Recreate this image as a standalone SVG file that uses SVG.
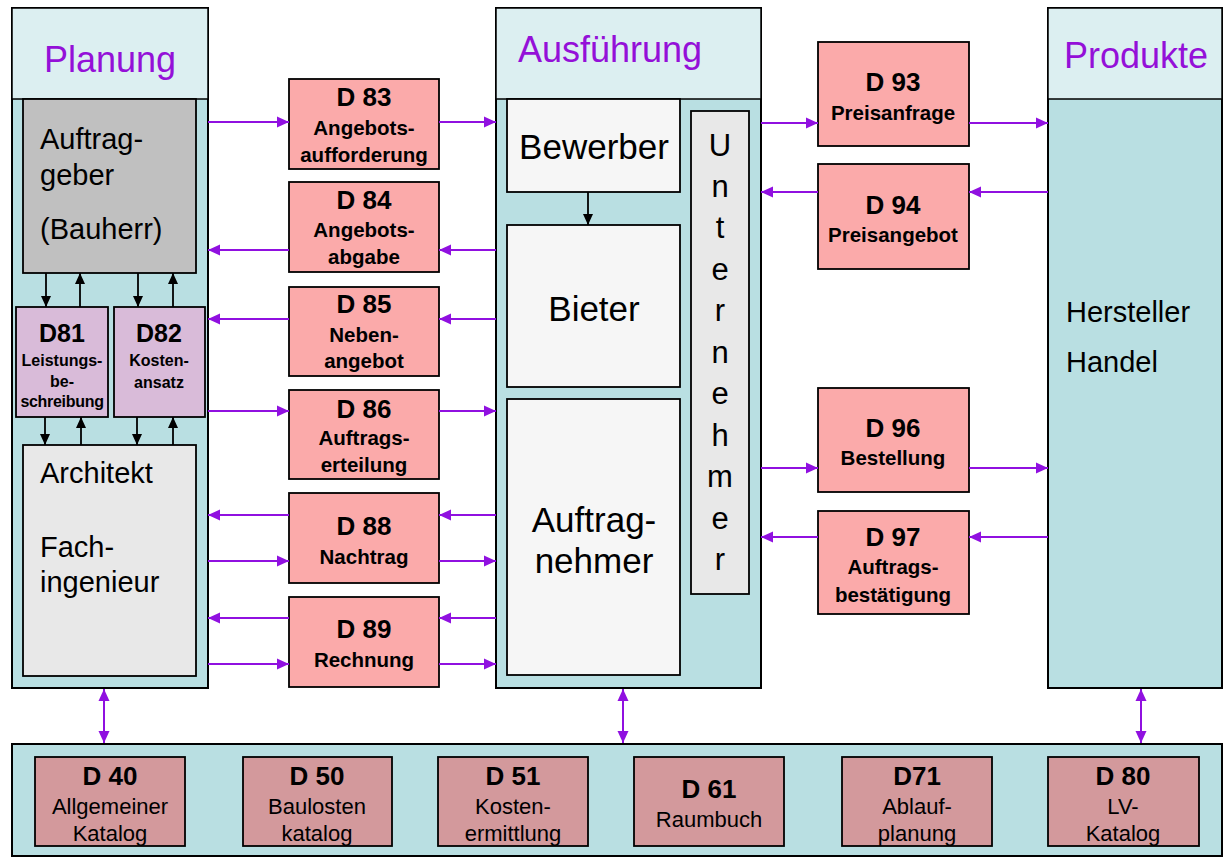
<svg xmlns="http://www.w3.org/2000/svg" width="1224" height="858" viewBox="0 0 1224 858">
<style>
text{font-family:"Liberation Sans",Arial,sans-serif;fill:#000}
.col{fill:#B9DFE2;stroke:#000;stroke-width:2}
.hdr{fill:#DCEFF1;stroke:#000;stroke-width:1.5}
.ttl{font-size:36px;fill:#9410D8}
.big{font-size:29px}
.big35{font-size:35px}
.pk{fill:#FBAAAA;stroke:#000;stroke-width:1.8}
.rose{fill:#D3999C;stroke:#000;stroke-width:1.8}
.lil{fill:#D9BBD9;stroke:#000;stroke-width:1.8}
.wh{fill:#F6F6F6;stroke:#000;stroke-width:1.8}
.gr{fill:#E8E8E8;stroke:#000;stroke-width:1.8}
.dk{fill:#C0C0C0;stroke:#000;stroke-width:1.8}
.dn{font-size:26px;font-weight:bold;text-anchor:middle}
.sb{font-size:20.5px;font-weight:bold;text-anchor:middle}
.sr{font-size:22px;text-anchor:middle}
.c{text-anchor:middle}
.pl{stroke:#9010E0;stroke-width:2;fill:none;marker-end:url(#pa)}
.pd{stroke:#9010E0;stroke-width:2;fill:none;marker-end:url(#pa);marker-start:url(#pa)}
.bl{stroke:#000;stroke-width:1.8;fill:none;marker-end:url(#ba)}
</style>
<defs>
<marker id="pa" markerUnits="userSpaceOnUse" markerWidth="13" markerHeight="13" refX="12" refY="6.5" orient="auto-start-reverse"><path d="M0,1 L12,6.5 L0,12 z" fill="#9010E0"/></marker>
<marker id="ba" markerUnits="userSpaceOnUse" markerWidth="12" markerHeight="12" refX="11" refY="6" orient="auto"><path d="M0,1 L11,6 L0,11 z" fill="#000"/></marker>
</defs>
<rect width="1224" height="858" fill="#fff"/>

<g id="planung">
<rect class="col" x="12" y="8" width="196" height="680"/>
<rect class="hdr" x="12" y="8" width="196" height="91"/>
<text class="ttl c" x="110" y="72">Planung</text>
</g>
<g id="auftraggeber">
<rect class="dk" x="23" y="99" width="173" height="174"/>
<text class="big" x="40" y="149">Auftrag-</text>
<text class="big" x="40" y="185">geber</text>
<text class="big" x="40" y="239">(Bauherr)</text>
</g>
<g id="d81">
<rect class="lil" x="16" y="307" width="92" height="110"/>
<text x="62" y="342" class="c" style="font-size:25px;font-weight:bold">D81</text>
<text x="62" y="366" class="c" style="font-size:16px;font-weight:bold">Leistungs-</text>
<text x="62" y="387" class="c" style="font-size:16px;font-weight:bold">be-</text>
<text x="62" y="407" class="c" style="font-size:16px;font-weight:bold;letter-spacing:-0.3px">schreibung</text>
</g>
<g id="d82">
<rect class="lil" x="114" y="307" width="91" height="110"/>
<text x="159" y="342" class="c" style="font-size:25px;font-weight:bold">D82</text>
<text x="159" y="366" class="c" style="font-size:16px;font-weight:bold">Kosten-</text>
<text x="159" y="388" class="c" style="font-size:16px;font-weight:bold">ansatz</text>
</g>
<g id="architekt">
<rect class="gr" x="23" y="445" width="173" height="231"/>
<text class="big" x="40" y="483">Architekt</text>
<text class="big" x="40" y="557">Fach-</text>
<text class="big" x="40" y="592">ingenieur</text>
</g>

<g id="ausfuehrung">
<rect class="col" x="496" y="8" width="265" height="680"/>
<rect class="hdr" x="496" y="8" width="265" height="91"/>
<text class="ttl" x="518" y="62">Ausführung</text>
</g>
<g id="bewerber">
<rect class="wh" x="507" y="99" width="173" height="93"/>
<text class="big35 c" x="594" y="159">Bewerber</text>
</g>
<g id="bieter">
<rect class="wh" x="507" y="225" width="173" height="162"/>
<text class="big35 c" x="594" y="321">Bieter</text>
</g>
<g id="auftragnehmer">
<rect class="wh" x="507" y="399" width="173" height="276"/>
<text class="big35 c" x="594" y="532">Auftrag-</text>
<text class="big35 c" x="594" y="573">nehmer</text>
</g>
<g id="unternehmer">
<rect class="gr" x="691" y="111" width="58" height="483"/>
<g style="font-size:31px;text-anchor:middle">
<text x="720" y="156">U</text>
<text x="720" y="197">n</text>
<text x="720" y="238">t</text>
<text x="720" y="280">e</text>
<text x="720" y="321">r</text>
<text x="720" y="363">n</text>
<text x="720" y="404">e</text>
<text x="720" y="446">h</text>
<text x="720" y="487">m</text>
<text x="720" y="529">e</text>
<text x="720" y="570">r</text>
</g>
</g>

<g id="produkte">
<rect class="col" x="1048" y="8" width="174" height="680"/>
<rect class="hdr" x="1048" y="8" width="174" height="91"/>
<text class="ttl" x="1064" y="68">Produkte</text>
<text class="big" x="1066" y="322">Hersteller</text>
<text class="big" x="1066" y="372">Handel</text>
</g>

<g id="d83"><rect class="pk" x="289" y="79" width="150" height="90"/>
<text class="dn" x="364" y="106">D 83</text><text class="sb" x="364" y="135">Angebots-</text><text class="sb" x="364" y="162">aufforderung</text></g>
<g id="d84"><rect class="pk" x="289" y="182" width="150" height="90"/>
<text class="dn" x="364" y="209">D 84</text><text class="sb" x="364" y="237">Angebots-</text><text class="sb" x="364" y="264">abgabe</text></g>
<g id="d85"><rect class="pk" x="289" y="287" width="150" height="89"/>
<text class="dn" x="364" y="313">D 85</text><text class="sb" x="364" y="342">Neben-</text><text class="sb" x="364" y="368">angebot</text></g>
<g id="d86"><rect class="pk" x="289" y="390" width="150" height="89"/>
<text class="dn" x="364" y="418">D 86</text><text class="sb" x="364" y="445">Auftrags-</text><text class="sb" x="364" y="472">erteilung</text></g>
<g id="d88"><rect class="pk" x="289" y="493" width="150" height="90"/>
<text class="dn" x="364" y="535">D 88</text><text class="sb" x="364" y="564">Nachtrag</text></g>
<g id="d89"><rect class="pk" x="289" y="597" width="150" height="90"/>
<text class="dn" x="364" y="638">D 89</text><text class="sb" x="364" y="667">Rechnung</text></g>

<g id="d93"><rect class="pk" x="818" y="42" width="151" height="104"/>
<text class="dn" x="893" y="91">D 93</text><text class="sb" x="893" y="120">Preisanfrage</text></g>
<g id="d94"><rect class="pk" x="818" y="164" width="151" height="105"/>
<text class="dn" x="893" y="214">D 94</text><text class="sb" x="893" y="242">Preisangebot</text></g>
<g id="d96"><rect class="pk" x="818" y="388" width="151" height="104"/>
<text class="dn" x="893" y="437">D 96</text><text class="sb" x="893" y="465">Bestellung</text></g>
<g id="d97"><rect class="pk" x="818" y="511" width="151" height="103"/>
<text class="dn" x="893" y="546">D 97</text><text class="sb" x="893" y="574">Auftrags-</text><text class="sb" x="893" y="602">bestätigung</text></g>

<g id="katalogband">
<rect class="col" x="12" y="744" width="1210" height="112"/>
</g>
<g id="d40"><rect class="rose" x="35" y="757" width="150" height="89"/>
<text class="dn" x="110" y="785">D 40</text><text class="sr" x="110" y="814">Allgemeiner</text><text class="sr" x="110" y="841">Katalog</text></g>
<g id="d50"><rect class="rose" x="243" y="757" width="149" height="89"/>
<text class="dn" x="317" y="785">D 50</text><text class="sr" x="317" y="814">Baulosten</text><text class="sr" x="317" y="841">katalog</text></g>
<g id="d51"><rect class="rose" x="438" y="757" width="150" height="89"/>
<text class="dn" x="513" y="785">D 51</text><text class="sr" x="513" y="814">Kosten-</text><text class="sr" x="513" y="841">ermittlung</text></g>
<g id="d61"><rect class="rose" x="634" y="757" width="150" height="89"/>
<text class="dn" x="709" y="798">D 61</text><text class="sr" x="709" y="827">Raumbuch</text></g>
<g id="d71"><rect class="rose" x="842" y="757" width="150" height="89"/>
<text class="dn" x="917" y="785">D71</text><text class="sr" x="917" y="814">Ablauf-</text><text class="sr" x="917" y="841">planung</text></g>
<g id="d80"><rect class="rose" x="1048" y="757" width="151" height="89"/>
<text class="dn" x="1123" y="785">D 80</text><text class="sr" x="1123" y="814">LV-</text><text class="sr" x="1123" y="841">Katalog</text></g>

<g id="connectors">
<path class="bl" d="M46,273 V307"/>
<path class="bl" d="M80,307 V273"/>
<path class="bl" d="M138,273 V307"/>
<path class="bl" d="M173,307 V273"/>
<path class="bl" d="M45,417 V445"/>
<path class="bl" d="M81,445 V417"/>
<path class="bl" d="M137,417 V445"/>
<path class="bl" d="M173,445 V417"/>
<path class="bl" d="M588,192 V225"/>

<path class="pl" d="M208,122 H289"/>
<path class="pl" d="M439,122 H496"/>
<path class="pl" d="M496,250 H439"/>
<path class="pl" d="M289,250 H208"/>
<path class="pl" d="M496,319 H439"/>
<path class="pl" d="M289,319 H208"/>
<path class="pl" d="M208,411 H289"/>
<path class="pl" d="M439,411 H496"/>
<path class="pl" d="M496,515 H439"/>
<path class="pl" d="M289,515 H208"/>
<path class="pl" d="M208,561 H289"/>
<path class="pl" d="M439,561 H496"/>
<path class="pl" d="M496,618 H439"/>
<path class="pl" d="M289,618 H208"/>
<path class="pl" d="M208,664 H289"/>
<path class="pl" d="M439,664 H496"/>

<path class="pl" d="M761,123 H818"/>
<path class="pl" d="M969,123 H1048"/>
<path class="pl" d="M1048,192 H969"/>
<path class="pl" d="M818,192 H761"/>
<path class="pl" d="M761,468 H818"/>
<path class="pl" d="M969,468 H1048"/>
<path class="pl" d="M1048,537 H969"/>
<path class="pl" d="M818,537 H761"/>

<path class="pd" d="M104,689 V743"/>
<path class="pd" d="M623,689 V743"/>
<path class="pd" d="M1141,689 V743"/>
</g>
</svg>
